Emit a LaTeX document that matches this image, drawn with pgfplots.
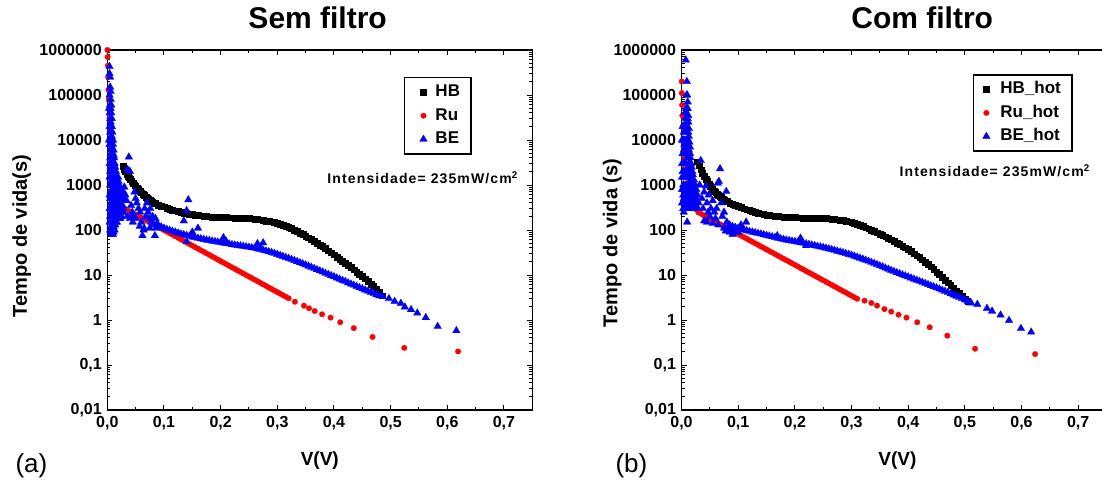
\documentclass[border=0pt]{standalone}
\usepackage{pgfplots}
\pgfplotsset{compat=1.18}
\usepackage{fontspec}
\setmainfont{Liberation Sans}
\newcommand{\fs}[1]{\fontsize{#1}{#1}\selectfont}

\begin{document}
\begin{tikzpicture}
% ---------------- left panel ----------------
\begin{axis}[at={(107.3pt,75pt)}, anchor=south west,
    scale only axis, width=425pt, height=360pt,
    ymode=log, ymin=0.01, ymax=1000000, xmin=0, xmax=0.75,
    axis line style={line width=1.3pt},
    tick align=inside, major tick length=5pt, minor tick length=3pt,
    tick style={black, line width=1pt},
    xtick={0,0.1,0.2,0.3,0.4,0.5,0.6,0.7},
    xticklabels={{0,0},{0,1},{0,2},{0,3},{0,4},{0,5},{0,6},{0,7}},
    minor xtick={0.05,0.15,0.25,0.35,0.45,0.55,0.65},
    ytick={0.01,0.1,1,10,100,1000,10000,100000,1000000},
    yticklabels={{0,01},{0,1},1,10,100,1000,10000,100000,1000000},
    minor ytick={0.02,0.03,0.04,0.05,0.06,0.07,0.08,0.09,0.2,0.3,0.4,0.5,0.6,0.7,0.8,0.9,2,3,4,5,6,7,8,9,20,30,40,50,60,70,80,90,200,300,400,500,600,700,800,900,2000,3000,4000,5000,6000,7000,8000,9000,20000,30000,40000,50000,60000,70000,80000,90000,200000,300000,400000,500000,600000,700000,800000,900000},
    ticklabel style={font=\fs{16}\bfseries},
    yticklabel style={xshift=-2pt}, xticklabel style={yshift=-3pt},
    legend cell align=left,
    legend image code/.code={\path[draw=none,fill=none] (0pt,-4pt) rectangle (20pt,4pt); \draw[#1] plot coordinates {(13pt,0pt)};},
    legend style={at={(0.6975,0.925)}, anchor=north west, draw=black, line width=1.5pt, font=\fs{17}\bfseries, row sep=4.5pt, inner xsep=6pt, inner ysep=5pt, nodes={text height=12pt, text depth=3pt, inner ysep=2pt, inner xsep=5pt}},
  title={Sem filtro}, title style={at={(axis description cs:0.495,1.0417)}, anchor=base, font=\fs{30}\bfseries},
  xlabel={V(V)}, xlabel style={at={(axis description cs:0.5,-0.153)}, anchor=base, font=\fs{19}\bfseries},
  ylabel={Tempo de vida(s)}, ylabel style={at={(axis description cs:-0.1895,0.483)}, anchor=base, font=\fs{20}\bfseries}]
\addplot[only marks, mark=square*, mark size=2.9pt, color=black, mark options={line width=0.2pt}] coordinates {
(0.028,2600)(0.030,2250)(0.032,2000)(0.034,1780)(0.036,1600)(0.038,1460)(0.040,1350)(0.043,1200)(0.045,1100)(0.048,1000)(0.050,950)(0.053,860)(0.055,800)(0.058,730)(0.060,680)(0.063,620)(0.065,590)(0.068,545)(0.070,520)(0.073,490)(0.075,470)(0.078,440)(0.080,420)(0.085,390)(0.090,360)(0.095,340)(0.100,330)(0.105,312)(0.110,295)(0.115,282)(0.120,270)(0.125,260)(0.130,250)(0.135,242)(0.140,235)(0.145,228)(0.150,222)(0.155,217)(0.160,212)(0.165,208)(0.170,205)(0.175,202)(0.180,199)(0.185,197)(0.190,195)(0.195,193)(0.200,192)(0.205,191)(0.210,190)(0.215,189)(0.220,188)(0.225,187)(0.230,186)(0.235,185)(0.240,184)(0.245,183)(0.250,181)(0.255,179)(0.260,177)(0.265,174)(0.270,170)(0.275,165)(0.280,160)(0.285,157)(0.290,153)(0.295,149)(0.300,145)(0.305,138)(0.310,131)(0.315,123)(0.320,116)(0.325,108)(0.330,101)(0.335,94)(0.340,87)(0.345,80)(0.350,74)(0.355,68)(0.360,62)(0.365,57)(0.370,52)(0.375,47)(0.380,43)(0.385,39)(0.390,35)(0.395,31.5)(0.400,28.5)(0.405,25.5)(0.410,23)(0.415,20.5)(0.420,18.5)(0.425,16.5)(0.430,14.8)(0.435,13.2)(0.440,11.8)(0.445,10.5)(0.450,9.4)(0.455,8.3)(0.460,7.3)(0.465,6.4)(0.470,5.6)(0.475,4.9)(0.480,4.2)(0.485,3.5)
};
\addlegendentry{HB}
\addplot[only marks, mark=*, mark size=2.8pt, color=red, mark options={line width=0.2pt}] coordinates {
(0.0003,1000000)(0.0005,700000)(0.001,450000)(0.0015,250000)(0.002,130000)(0.0025,80000)(0.003,50000)(0.004,30000)(0.005,18000)(0.006,11000)(0.007,7000)(0.008,4800)(0.009,3500)(0.010,2700)(0.012,1800)(0.014,1200)(0.016,900)(0.018,700)(0.020,560)(0.022,460)(0.024,380)
(0.025,327)(0.030,302)(0.035,279)(0.040,258)(0.045,238)(0.050,220)(0.055,203)(0.060,188)(0.065,173)(0.070,160)(0.075,148)(0.080,137)(0.085,126)(0.090,117)(0.095,108)(0.100,99.5)(0.105,91.9)(0.110,84.9)(0.115,78.4)(0.120,72.4)(0.125,66.9)(0.130,61.8)(0.135,57.1)(0.140,52.7)(0.145,48.7)(0.150,45.0)(0.155,41.6)(0.160,38.4)(0.165,35.5)(0.170,32.8)(0.175,30.3)(0.180,28.0)(0.185,25.8)(0.190,23.9)(0.195,22.0)(0.200,20.4)(0.205,18.8)(0.210,17.4)(0.215,16.0)(0.220,14.8)(0.225,13.7)(0.230,12.6)(0.235,11.7)(0.240,10.8)(0.245,9.97)(0.250,9.21)(0.255,8.51)(0.260,7.86)(0.265,7.26)(0.270,6.70)(0.275,6.19)(0.280,5.72)(0.285,5.28)(0.290,4.88)(0.295,4.51)(0.300,4.17)(0.305,3.85)(0.310,3.56)(0.315,3.28)(0.320,3.03)
(0.331,2.55)(0.347,2.08)(0.356,1.82)(0.366,1.58)(0.379,1.34)(0.394,1.13)(0.411,0.89)(0.435,0.66)(0.468,0.42)(0.524,0.24)(0.619,0.20)
};
\addlegendentry{Ru}
\addplot[only marks, mark=triangle*, mark size=4.4pt, color=blue, mark options={line width=0.2pt}] coordinates {
(0.003,10000)(0.003,50000)(0.004,430000)(0.004,20000)(0.004,3000)(0.004,600)(0.005,250000)(0.005,150000)(0.005,8000)(0.005,1000)(0.005,200)(0.006,120000)(0.006,80000)(0.006,12000)(0.006,400)(0.006,120)(0.007,60000)(0.007,40000)(0.007,5000)(0.007,250)(0.007,80)(0.008,30000)(0.008,20000)(0.008,3000)(0.008,1500)(0.008,90)(0.009,15000)(0.009,10000)(0.009,2500)(0.009,500)(0.009,150)(0.010,8000)(0.010,5000)(0.010,1500)(0.010,300)(0.010,80)(0.011,6000)(0.011,3000)(0.011,800)(0.011,120)(0.012,4000)(0.012,2000)(0.012,600)(0.012,200)(0.013,3000)(0.013,1500)(0.013,100)(0.014,2500)(0.014,1000)(0.014,300)(0.015,2000)(0.015,700)(0.015,150)(0.016,1500)(0.016,500)(0.016,250)(0.017,1200)(0.017,400)(0.018,900)(0.018,200)(0.019,1500)(0.019,300)(0.020,700)(0.020,180)(0.021,1000)(0.021,400)(0.022,600)(0.022,250)(0.023,180)(0.024,800)(0.024,300)(0.025,200)(0.026,500)(0.026,250)(0.027,350)(0.028,700)(0.028,300)(0.029,500)
(0.004,300000)(0.004,100000)(0.004,40000)(0.004,8000)(0.004,1500)(0.004,300)(0.004,150)(0.005,60000)(0.005,30000)(0.005,15000)(0.005,4000)(0.005,2000)(0.005,500)(0.005,100)(0.006,50000)(0.006,25000)(0.006,6000)(0.006,2500)(0.006,1200)(0.006,700)(0.006,250)(0.006,90)(0.007,20000)(0.007,10000)(0.007,2500)(0.007,1500)(0.007,600)(0.007,400)(0.007,150)(0.008,12000)(0.008,7000)(0.008,5000)(0.008,800)(0.008,400)(0.008,200)(0.008,120)(0.009,6000)(0.009,4000)(0.009,1500)(0.009,800)(0.009,300)(0.009,100)(0.010,10000)(0.010,3000)(0.010,2000)(0.010,700)(0.010,450)(0.010,200)(0.010,120)(0.011,4500)(0.011,2000)(0.011,1200)(0.011,450)(0.011,250)(0.011,90)(0.012,3000)(0.012,1200)(0.012,800)(0.012,400)(0.012,130)(0.013,2200)(0.013,1000)(0.013,600)(0.013,350)(0.013,200)(0.014,1800)(0.014,700)(0.014,450)(0.014,200)(0.014,130)(0.015,1500)(0.015,1000)(0.015,400)(0.015,250)(0.016,1200)(0.016,800)(0.016,350)(0.016,180)(0.017,900)(0.017,600)(0.017,250)(0.017,150)(0.018,1100)(0.018,600)(0.018,400)(0.018,300)(0.019,800)(0.019,450)(0.019,200)(0.020,1200)(0.020,500)(0.020,300)(0.022,900)(0.022,400)(0.022,180)(0.024,600)(0.024,450)(0.024,200)(0.026,700)(0.026,350)(0.028,500)(0.028,250)
(0.030,900)(0.032,600)(0.034,450)(0.035,200)(0.036,2200)(0.038,4200)(0.040,2000)(0.040,180)(0.042,350)(0.044,250)(0.045,150)(0.046,200)(0.048,700)(0.050,500)(0.050,180)(0.052,400)(0.055,300)(0.057,120)(0.058,250)(0.060,150)(0.062,75)(0.064,100)(0.065,110)(0.066,300)(0.068,200)(0.070,400)(0.072,250)(0.074,180)(0.075,110)(0.076,300)(0.078,150)(0.080,200)(0.082,130)(0.084,75)(0.085,180)(0.086,110)(0.088,140)
(0.135,160)(0.140,270)(0.143,470)(0.140,55)(0.150,90)(0.160,110)(0.205,68)(0.210,55)(0.265,50)(0.275,52)(0.270,42)
(0.090,125)(0.095,118)(0.100,110)(0.105,104)(0.110,99)(0.115,94)(0.120,90)(0.125,86)(0.130,82)(0.135,79)(0.140,76)(0.145,73)(0.150,70)(0.155,68)(0.160,66)(0.165,64)(0.170,62)(0.175,60)(0.180,58.5)(0.185,57)(0.190,55.5)(0.195,54)(0.200,53)(0.205,51.5)(0.210,50)(0.215,49)(0.220,47.5)(0.225,46.5)(0.230,45.5)(0.235,44.5)(0.240,43.5)(0.245,42.5)(0.250,41.5)(0.255,40.5)(0.260,39.5)(0.265,38.2)(0.270,37)(0.275,35.8)(0.280,34.4)(0.285,33)(0.290,31.6)(0.295,30.2)(0.300,28.8)(0.305,27.4)(0.310,26)(0.315,24.7)(0.320,23.4)(0.325,22.2)(0.330,21)(0.335,19.9)(0.340,18.8)(0.345,17.8)(0.350,16.8)(0.355,15.8)(0.360,14.9)(0.365,14.0)(0.370,13.2)(0.375,12.4)(0.380,11.7)(0.385,11.0)(0.390,10.3)(0.395,9.7)(0.400,9.2)(0.405,8.6)(0.410,8.1)(0.415,7.6)(0.420,7.2)(0.425,6.7)(0.430,6.3)(0.435,5.95)(0.440,5.6)(0.445,5.25)(0.450,4.95)(0.455,4.65)(0.460,4.4)(0.465,4.1)(0.470,3.9)(0.475,3.65)(0.480,3.45)
(0.486,3.3)(0.497,3.0)(0.507,2.6)(0.518,2.35)(0.525,1.95)(0.536,1.7)(0.547,1.43)(0.562,1.13)(0.583,0.72)(0.616,0.58)
};
\addlegendentry{BE}
\node[anchor=base east, font=\fs{14}\bfseries] at (rel axis cs:0.974,0.628) {\addfontfeatures{LetterSpace=8}Intensidade= 235mW/cm\textsuperscript{2}};
\end{axis}
% ---------------- right panel ----------------
\begin{axis}[at={(681.5pt,75pt)}, anchor=south west,
    scale only axis, width=425pt, height=360pt,
    ymode=log, ymin=0.01, ymax=1000000, xmin=0, xmax=0.75,
    axis line style={line width=1.3pt},
    tick align=inside, major tick length=5pt, minor tick length=3pt,
    tick style={black, line width=1pt},
    xtick={0,0.1,0.2,0.3,0.4,0.5,0.6,0.7},
    xticklabels={{0,0},{0,1},{0,2},{0,3},{0,4},{0,5},{0,6},{0,7}},
    minor xtick={0.05,0.15,0.25,0.35,0.45,0.55,0.65},
    ytick={0.01,0.1,1,10,100,1000,10000,100000,1000000},
    yticklabels={{0,01},{0,1},1,10,100,1000,10000,100000,1000000},
    minor ytick={0.02,0.03,0.04,0.05,0.06,0.07,0.08,0.09,0.2,0.3,0.4,0.5,0.6,0.7,0.8,0.9,2,3,4,5,6,7,8,9,20,30,40,50,60,70,80,90,200,300,400,500,600,700,800,900,2000,3000,4000,5000,6000,7000,8000,9000,20000,30000,40000,50000,60000,70000,80000,90000,200000,300000,400000,500000,600000,700000,800000,900000},
    ticklabel style={font=\fs{16}\bfseries},
    yticklabel style={xshift=-2pt}, xticklabel style={yshift=-3pt},
    legend cell align=left,
    legend image code/.code={\path[draw=none,fill=none] (0pt,-4pt) rectangle (16pt,4pt); \draw[#1] plot coordinates {(7pt,0pt)};},
    legend style={at={(0.685,0.933)}, anchor=north west, draw=black, line width=1.5pt, font=\fs{17}\bfseries, row sep=4.5pt, inner xsep=6pt, inner ysep=5pt, nodes={text height=12pt, text depth=3pt, inner ysep=2pt, inner xsep=5pt}},
  title={Com filtro}, title style={at={(axis description cs:0.5665,1.0417)}, anchor=base, font=\fs{30}\bfseries},
  xlabel={V(V)}, xlabel style={at={(axis description cs:0.508,-0.153)}, anchor=base, font=\fs{19}\bfseries},
  ylabel={Tempo de vida (s)}, ylabel style={at={(axis description cs:-0.151,0.464)}, anchor=base, font=\fs{20}\bfseries}]
\addplot[only marks, mark=square*, mark size=2.9pt, color=black, mark options={line width=0.2pt}] coordinates {
(0.028,3300)(0.031,2700)(0.034,2200)(0.037,1850)(0.040,1600)(0.043,1350)(0.045,1200)(0.048,1050)(0.050,950)(0.053,860)(0.055,800)(0.058,730)(0.060,690)(0.063,635)(0.065,600)(0.068,560)(0.070,530)(0.073,495)(0.075,475)(0.078,450)(0.080,430)(0.085,400)(0.090,375)(0.095,355)(0.100,335)(0.105,317)(0.110,300)(0.115,285)(0.120,272)(0.125,261)(0.130,250)(0.135,240)(0.140,232)(0.145,225)(0.150,218)(0.155,213)(0.160,208)(0.165,204)(0.170,201)(0.175,198)(0.180,196)(0.185,194)(0.190,192)(0.195,191)(0.200,190)(0.205,189)(0.210,188)(0.215,187.5)(0.220,187)(0.225,186.5)(0.230,186)(0.235,185.5)(0.240,185)(0.245,184)(0.250,183)(0.255,182)(0.260,180)(0.265,178)(0.270,175)(0.275,171)(0.280,167)(0.285,163)(0.290,158)(0.295,153)(0.300,147)(0.305,141)(0.310,134)(0.315,127)(0.320,120)(0.325,113)(0.330,107)(0.335,100)(0.340,94)(0.345,88)(0.350,82)(0.355,76)(0.360,71)(0.365,66)(0.370,61)(0.375,56)(0.380,52)(0.385,48)(0.390,44)(0.395,40.5)(0.400,37)(0.405,33.5)(0.410,30)(0.415,27)(0.420,24.5)(0.425,22)(0.430,19.5)(0.435,17.3)(0.440,15.3)(0.445,13.5)(0.450,11.8)(0.455,10.3)(0.460,9.0)(0.465,7.8)(0.470,6.8)(0.475,5.9)(0.480,5.1)(0.485,4.5)(0.490,3.9)(0.495,3.4)(0.500,3.0)(0.505,2.6)
};
\addlegendentry{HB\_hot}
\addplot[only marks, mark=*, mark size=2.8pt, color=red, mark options={line width=0.2pt}] coordinates {
(0.0003,200000)(0.0005,110000)(0.001,60000)(0.0015,35000)(0.002,20000)(0.003,10000)(0.004,6000)(0.005,4000)(0.006,2800)(0.008,1700)(0.010,1100)(0.012,800)(0.015,600)(0.018,450)(0.021,370)(0.024,320)(0.027,280)
(0.030,245)(0.035,227)(0.040,209)(0.045,194)(0.050,179)(0.055,165)(0.060,153)(0.065,141)(0.070,130)(0.075,121)(0.080,111)(0.085,103)(0.090,95.2)(0.095,88.0)(0.100,81.3)(0.105,75.1)(0.110,69.4)(0.115,64.2)(0.120,59.3)(0.125,54.8)(0.130,50.6)(0.135,46.8)(0.140,43.3)(0.145,40.0)(0.150,36.9)(0.155,34.1)(0.160,31.6)(0.165,29.2)(0.170,26.9)(0.175,24.9)(0.180,23.0)(0.185,21.3)(0.190,19.7)(0.195,18.2)(0.200,16.8)(0.205,15.5)(0.210,14.3)(0.215,13.3)(0.220,12.2)(0.225,11.3)(0.230,10.5)(0.235,9.67)(0.240,8.93)(0.245,8.26)(0.250,7.63)(0.255,7.05)(0.260,6.52)(0.265,6.02)(0.270,5.57)(0.275,5.14)(0.280,4.75)(0.285,4.39)(0.290,4.06)(0.295,3.75)(0.300,3.47)(0.305,3.20)(0.310,2.96)
(0.323,2.69)(0.335,2.39)(0.345,2.09)(0.358,1.75)(0.370,1.53)(0.383,1.31)(0.397,1.13)(0.416,0.89)(0.438,0.69)(0.469,0.45)(0.518,0.23)(0.624,0.175)
};
\addlegendentry{Ru\_hot}
\addplot[only marks, mark=triangle*, mark size=4.4pt, color=blue, mark options={line width=0.2pt}] coordinates {
(0.001,3000)(0.001,800)(0.002,20000)(0.002,5000)(0.002,400)(0.003,10000)(0.003,2000)(0.003,600)(0.004,6000)(0.004,1000)(0.004,250)(0.005,3000)(0.005,500)(0.006,1500)(0.006,300)(0.007,30000)(0.007,800)(0.0075,600000)(0.008,50000)(0.008,400)(0.0094,200000)(0.009,8000)(0.009,600)(0.010,100000)(0.010,300)(0.010,150)(0.011,70000)(0.011,50000)(0.011,2000)(0.012,35000)(0.012,25000)(0.012,500)(0.013,18000)(0.013,12000)(0.013,800)(0.014,9000)(0.014,300)(0.015,7000)(0.015,5000)(0.015,1200)(0.016,4000)(0.016,400)(0.017,3000)(0.017,600)(0.018,2500)(0.018,300)(0.019,2000)(0.019,500)(0.020,1700)(0.020,350)(0.021,600)(0.022,1300)(0.022,400)(0.023,300)(0.024,1000)(0.024,500)(0.025,350)(0.026,800)(0.026,450)(0.027,300)(0.028,600)(0.030,400)
(0.001,10000)(0.001,1500)(0.001,400)(0.002,10000)(0.002,2000)(0.002,800)(0.003,5000)(0.003,1000)(0.003,300)(0.004,15000)(0.004,3000)(0.004,500)(0.005,20000)(0.005,8000)(0.005,1500)(0.005,800)(0.005,300)(0.006,40000)(0.006,10000)(0.006,5000)(0.006,700)(0.006,400)(0.007,15000)(0.007,6000)(0.007,2000)(0.007,400)(0.008,25000)(0.008,10000)(0.008,3000)(0.008,1000)(0.008,300)(0.009,100000)(0.009,40000)(0.009,4000)(0.009,1500)(0.009,300)(0.010,50000)(0.010,20000)(0.010,6000)(0.010,2000)(0.010,800)(0.010,500)(0.011,30000)(0.011,10000)(0.011,4000)(0.011,1000)(0.011,300)(0.012,15000)(0.012,6000)(0.012,2500)(0.012,1000)(0.012,350)(0.013,6000)(0.013,3000)(0.013,1500)(0.013,500)(0.014,5000)(0.014,2500)(0.014,1500)(0.014,600)(0.015,3000)(0.015,2000)(0.015,800)(0.015,400)(0.016,2500)(0.016,1500)(0.016,700)(0.016,300)(0.017,2000)(0.017,1200)(0.017,400)(0.018,1500)(0.018,900)(0.018,500)(0.019,1200)(0.019,700)(0.019,350)(0.020,1000)(0.020,600)(0.020,450)(0.022,800)(0.022,600)(0.022,300)(0.024,700)(0.024,350)(0.026,600)(0.026,350)(0.028,450)(0.028,300)
(0.034,3500)(0.032,1000)(0.036,500)(0.038,300)(0.040,700)(0.043,950)(0.045,400)(0.047,250)(0.050,200)(0.048,600)(0.052,300)(0.055,450)(0.058,250)(0.060,180)(0.062,300)(0.064,1100)(0.066,1200)(0.068,2300)(0.070,400)(0.072,200)(0.075,250)(0.079,720)(0.080,150)(0.082,110)(0.085,130)(0.088,100)(0.040,160)(0.045,150)(0.055,140)(0.065,130)(0.075,110)(0.085,90)(0.078,95)
(0.114,150)(0.169,75)(0.210,66)(0.220,45)(0.100,90)(0.090,80)(0.095,100)(0.105,130)
(0.090,120)(0.095,115)(0.100,110)(0.105,105)(0.110,101)(0.115,97)(0.120,93)(0.125,90)(0.130,87)(0.135,84.5)(0.140,82)(0.145,79)(0.150,76)(0.155,73.5)(0.160,71)(0.165,68.5)(0.170,66)(0.175,64)(0.180,62)(0.185,60)(0.190,58.5)(0.195,57)(0.200,55.5)(0.205,54)(0.210,52.5)(0.215,51)(0.220,49.5)(0.225,48)(0.230,46.5)(0.235,45)(0.240,43.5)(0.245,42.2)(0.250,41)(0.255,39.6)(0.260,38.2)(0.265,36.8)(0.270,35.4)(0.275,34)(0.280,32.7)(0.285,31.4)(0.290,30.1)(0.295,28.8)(0.300,27.6)(0.305,26.3)(0.310,25)(0.315,23.8)(0.320,22.6)(0.325,21.4)(0.330,20.3)(0.335,19.2)(0.340,18.1)(0.345,17.1)(0.350,16.1)(0.355,15.2)(0.360,14.3)(0.365,13.5)(0.370,12.7)(0.375,12.0)(0.380,11.3)(0.385,10.7)(0.390,10.1)(0.395,9.6)(0.400,9.1)(0.405,8.6)(0.410,8.1)(0.415,7.7)(0.420,7.3)(0.425,6.9)(0.430,6.5)(0.435,6.15)(0.440,5.8)(0.445,5.5)(0.450,5.2)(0.455,4.9)(0.460,4.6)(0.465,4.35)(0.470,4.1)(0.475,3.85)(0.480,3.6)(0.485,3.4)(0.490,3.2)(0.495,3.0)(0.500,2.8)(0.505,2.6)
(0.511,2.39)(0.522,2.23)(0.539,1.82)(0.548,1.58)(0.563,1.29)(0.578,0.98)(0.599,0.65)(0.617,0.54)
};
\addlegendentry{BE\_hot}
\node[anchor=base east, font=\fs{14}\bfseries] at (rel axis cs:0.969,0.648) {\addfontfeatures{LetterSpace=8}Intensidade= 235mW/cm\textsuperscript{2}};
\end{axis}
\node[anchor=base west, font=\fs{26}] at (12pt,13pt) {(a)};
\node[anchor=base west, font=\fs{26}] at (612pt,13pt) {(b)};
\pgfresetboundingbox
\useasboundingbox (0,0) rectangle (1102pt,485pt);
\end{tikzpicture}
\end{document}
